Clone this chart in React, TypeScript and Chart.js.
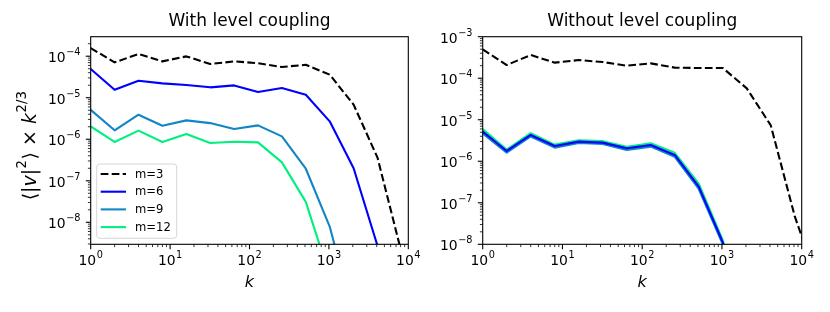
import React, { useEffect, useRef } from 'react';
import { Chart, registerables } from 'chart.js';

Chart.register(...registerables);

// ---------------- data ----------------
const kValues = [1, 2, 4, 8, 16, 32, 64, 128, 256, 512, 1024, 2048, 4096, 8192, 16384];

const seriesLabels = ['m=3', 'm=6', 'm=9', 'm=12'];
const panelTitles = ['With level coupling', 'Without level coupling'];

// With level coupling
const leftM3 = [1.57e-4, 7.1e-5, 1.13e-4, 7.5e-5, 9.9e-5, 6.5e-5, 7.5e-5, 6.8e-5, 5.5e-5, 6.2e-5, 3.6e-5, 6.8e-6, 3.6e-7, 1.9e-9];
const leftM6 = [4.9e-5, 1.56e-5, 2.57e-5, 2.22e-5, 2.02e-5, 1.78e-5, 1.98e-5, 1.37e-5, 1.71e-5, 1.18e-5, 2.7e-6, 2.0e-7, 2.7e-9];
const leftM9 = [5.1e-6, 1.64e-6, 3.9e-6, 2.12e-6, 2.85e-6, 2.45e-6, 1.76e-6, 2.16e-6, 1.17e-6, 1.95e-7, 7.9e-9, 5e-11];
const leftM12 = [2.04e-6, 8.6e-7, 1.61e-6, 8.6e-7, 1.34e-6, 8.1e-7, 8.7e-7, 8.4e-7, 2.77e-7, 3.1e-8, 5e-10];

// Without level coupling
const rightM3 = [4.96e-4, 2.08e-4, 3.62e-4, 2.37e-4, 2.74e-4, 2.45e-4, 2.0e-4, 2.28e-4, 1.8e-4, 1.76e-4, 1.76e-4, 5.7e-5, 7.3e-6, 4.7e-8, 1e-9];
const rightM6 = [5.2e-6, 1.77e-6, 4.3e-6, 2.33e-6, 2.97e-6, 2.81e-6, 2.05e-6, 2.46e-6, 1.42e-6, 2.45e-7, 1.12e-8, 1e-10];
const rightM9 = [4.7e-6, 1.62e-6, 3.95e-6, 2.13e-6, 2.75e-6, 2.6e-6, 1.88e-6, 2.25e-6, 1.28e-6, 2.15e-7, 1.0e-8, 1e-10];
const rightM12 = [6.0e-6, 1.92e-6, 4.75e-6, 2.52e-6, 3.2e-6, 3.05e-6, 2.22e-6, 2.7e-6, 1.6e-6, 2.9e-7, 1.25e-8, 1e-10];

const xTickExponents = [0, 1, 2, 3, 4];
const leftYTickExponents = [-8, -7, -6, -5, -4];
const rightYTickExponents = [-8, -7, -6, -5, -4, -3];

// ---------------- style ----------------
const FONT = "'DejaVu Sans', 'Liberation Sans', sans-serif";
const seriesColors = ['#000000', '#0000ff', '#1285c5', '#00f080'];
const W = 830;
const H = 312;
const AREA_TOP = 36.7;
const AREA_BOTTOM = 244.3;
const panelAreas = [
  { left: 90.7, right: 408.3 },
  { left: 482.7, right: 801.7 },
];
const panelYRange = [
  { min: 2.95e-9, max: 2.95e-4 },
  { min: 1e-8, max: 1e-3 },
];

const TICK_FS = 13.9;

function expText(e: number) {
  return (e < 0 ? '\u2212' : '') + String(Math.abs(e));
}

function drawPow(ctx: CanvasRenderingContext2D, e: number, x: number, y: number, align: 'center' | 'right') {
  const base = '10';
  const ex = expText(e);
  ctx.font = `${TICK_FS}px ${FONT}`;
  const wb = ctx.measureText(base).width;
  ctx.font = `${TICK_FS * 0.7}px ${FONT}`;
  const we = ctx.measureText(ex).width;
  const total = wb + we + 0.5;
  const x0 = align === 'center' ? x - total / 2 : x - total;
  ctx.textAlign = 'left';
  ctx.textBaseline = 'alphabetic';
  ctx.fillStyle = '#000';
  ctx.font = `${TICK_FS}px ${FONT}`;
  ctx.fillText(base, x0, y);
  ctx.font = `${TICK_FS * 0.7}px ${FONT}`;
  ctx.fillText(ex, x0 + wb + 0.5, y - TICK_FS * 0.5);
}

const decorPlugin = {
  id: 'decor',
  afterDatasetsDraw(chart: any, _args: any, opts: any) {
    const panel: number = opts.panel;
    const ctx: CanvasRenderingContext2D = chart.ctx;
    const { left, right, top, bottom } = chart.chartArea;
    const xs = chart.scales.x;
    const ys = chart.scales.y;
    ctx.save();

    // ticks
    const line = (x1: number, y1: number, x2: number, y2: number, w: number) => {
      ctx.beginPath();
      ctx.lineWidth = w;
      ctx.strokeStyle = '#000';
      ctx.moveTo(x1, y1);
      ctx.lineTo(x2, y2);
      ctx.stroke();
    };
    const majorLen = 4.9, minorLen = 2.8, majorW = 1.1, minorW = 0.8;
    for (let n = 0; n <= 4; n++) {
      for (let m = 1; m <= 9; m++) {
        const v = m * Math.pow(10, n);
        if (v > 1e4 * 1.0001) continue;
        const px = xs.getPixelForValue(v);
        if (m === 1) line(px, bottom, px, bottom + majorLen, majorW);
        else line(px, bottom, px, bottom + minorLen, minorW);
      }
    }
    const yr = panelYRange[panel];
    for (let n = -10; n <= -2; n++) {
      for (let m = 1; m <= 9; m++) {
        const v = m * Math.pow(10, n);
        if (v < yr.min * 0.9999 || v > yr.max * 1.0001) continue;
        const py = ys.getPixelForValue(v);
        if (m === 1) line(left, py, left - majorLen, py, majorW);
        else line(left, py, left - minorLen, py, minorW);
      }
    }

    // spines
    ctx.lineWidth = 1.1;
    ctx.strokeStyle = '#000';
    ctx.strokeRect(left, top, right - left, bottom - top);

    // tick labels
    for (const e of xTickExponents) {
      drawPow(ctx, e, xs.getPixelForValue(Math.pow(10, e)), bottom + 20.5, 'center');
    }
    const yExps = panel === 0 ? leftYTickExponents : rightYTickExponents;
    for (const e of yExps) {
      drawPow(ctx, e, left - 10.2, ys.getPixelForValue(Math.pow(10, e)) + 6, 'right');
    }

    if (panel === 0) {
      // y-axis label  <|v|^2> x k^{2/3}
      const fs = 19;
      const parts: { t: string; it?: boolean; sup?: boolean }[] = [
        { t: '\u27E8|' },
        { t: 'v', it: true },
        { t: '|' },
        { t: '2', sup: true },
        { t: '\u27E9 \u00D7 ' },
        { t: 'k', it: true },
        { t: '2/3', sup: true },
      ];
      const fontFor = (p: any) => `${p.it ? 'italic ' : ''}${p.sup ? fs * 0.7 : fs}px ${FONT}`;
      let total = 0;
      const widths = parts.map((p) => {
        ctx.font = fontFor(p);
        const w = ctx.measureText(p.t).width + (p.sup ? 1 : 0);
        total += w;
        return w;
      });
      ctx.translate(35.5, (top + bottom) / 2 + 5);
      ctx.rotate(-Math.PI / 2);
      ctx.textAlign = 'left';
      ctx.textBaseline = 'alphabetic';
      ctx.fillStyle = '#000';
      let cx = -total / 2;
      parts.forEach((p, i) => {
        ctx.font = fontFor(p);
        ctx.fillText(p.t, cx + (p.sup ? 0.5 : 0), p.sup ? -fs * 0.5 : 0);
        cx += widths[i];
      });
      ctx.setTransform(1, 0, 0, 1, 0, 0);

      // legend
      const lfs = 11.6;
      const bx = left + 6, bw = 80, bh = 74.3;
      const by = bottom - 6 - bh;
      ctx.beginPath();
      ctx.lineWidth = 1;
      ctx.strokeStyle = 'rgba(204,204,204,0.8)';
      ctx.fillStyle = 'rgba(255,255,255,0.8)';
      if ((ctx as any).roundRect) (ctx as any).roundRect(bx, by, bw, bh, 3);
      else ctx.rect(bx, by, bw, bh);
      ctx.fill();
      ctx.stroke();
      chart.data.datasets.forEach((ds: any, i: number) => {
        const ry = by + 10 + i * 17.7;
        ctx.beginPath();
        ctx.lineWidth = ds.borderWidth;
        ctx.strokeStyle = ds.borderColor;
        ctx.setLineDash(ds.borderDash || []);
        ctx.lineCap = 'butt';
        ctx.moveTo(bx + 4, ry);
        ctx.lineTo(bx + 29.3, ry);
        ctx.stroke();
        ctx.setLineDash([]);
        ctx.font = `${lfs}px ${FONT}`;
        ctx.fillStyle = '#000';
        ctx.textAlign = 'left';
        ctx.textBaseline = 'middle';
        ctx.fillText(ds.label, bx + 38.3, ry + 0.5);
      });
    }
    ctx.restore();
  },
};

function makeConfig(panel: number): any {
  const area = panelAreas[panel];
  const series = panel === 0 ? [leftM3, leftM6, leftM9, leftM12] : [rightM3, rightM6, rightM9, rightM12];
  const datasets = series.map((vals, i) => ({
    label: seriesLabels[i],
    data: vals.map((y, j) => ({ x: kValues[j], y })),
    borderColor: seriesColors[i],
    backgroundColor: seriesColors[i],
    borderWidth: 2.1,
    borderDash: i === 0 ? [7.7, 3.3] : [],
    borderCapStyle: i === 0 ? 'butt' : 'square',
    borderJoinStyle: 'round',
    pointRadius: 0,
    pointHoverRadius: 0,
    fill: false,
    tension: 0,
  }));
  const yr = panelYRange[panel];
  return {
    type: 'line',
    data: { datasets },
    plugins: [decorPlugin],
    options: {
      responsive: false,
      maintainAspectRatio: false,
      animation: false,
      devicePixelRatio: 1,
      events: [],
      layout: { padding: { left: 0, right: W - area.right, top: 0, bottom: 0 } },
      plugins: {
        legend: { display: false },
        tooltip: { enabled: false },
        title: {
          display: true,
          text: panelTitles[panel],
          fullSize: false,
          color: '#000',
          font: { family: FONT, size: 17, weight: 'normal', lineHeight: 1.2 },
          padding: { top: 11.7, bottom: AREA_TOP - 11.7 - 17 * 1.2 },
        },
        decor: { panel },
      },
      scales: {
        x: {
          type: 'logarithmic',
          min: 1,
          max: 1e4,
          ticks: { display: false },
          grid: { display: false },
          border: { display: false },
          title: {
            display: true,
            text: 'k',
            color: '#000',
            font: { family: FONT, size: 16, style: 'italic', lineHeight: 1.2 },
            padding: { top: 0, bottom: 19.5 },
          },
          afterFit: (s: any) => {
            s.height = H - AREA_BOTTOM;
          },
        },
        y: {
          type: 'logarithmic',
          min: yr.min,
          max: yr.max,
          ticks: { display: false },
          grid: { display: false },
          border: { display: false },
          afterFit: (s: any) => {
            s.width = area.left;
          },
        },
      },
    },
  };
}

export default function App() {
  const ref1 = useRef<HTMLCanvasElement>(null);
  const ref2 = useRef<HTMLCanvasElement>(null);
  useEffect(() => {
    const c1 = new Chart(ref1.current as HTMLCanvasElement, makeConfig(0));
    const c2 = new Chart(ref2.current as HTMLCanvasElement, makeConfig(1));
    return () => {
      c1.destroy();
      c2.destroy();
    };
  }, []);
  return (
    <div style={{ position: 'absolute', left: 0, top: 0, width: W, height: H, background: '#fff' }}>
      <canvas ref={ref1} width={W} height={H} style={{ position: 'absolute', left: 0, top: 0 }} />
      <canvas ref={ref2} width={W} height={H} style={{ position: 'absolute', left: 0, top: 0 }} />
    </div>
  );
}
